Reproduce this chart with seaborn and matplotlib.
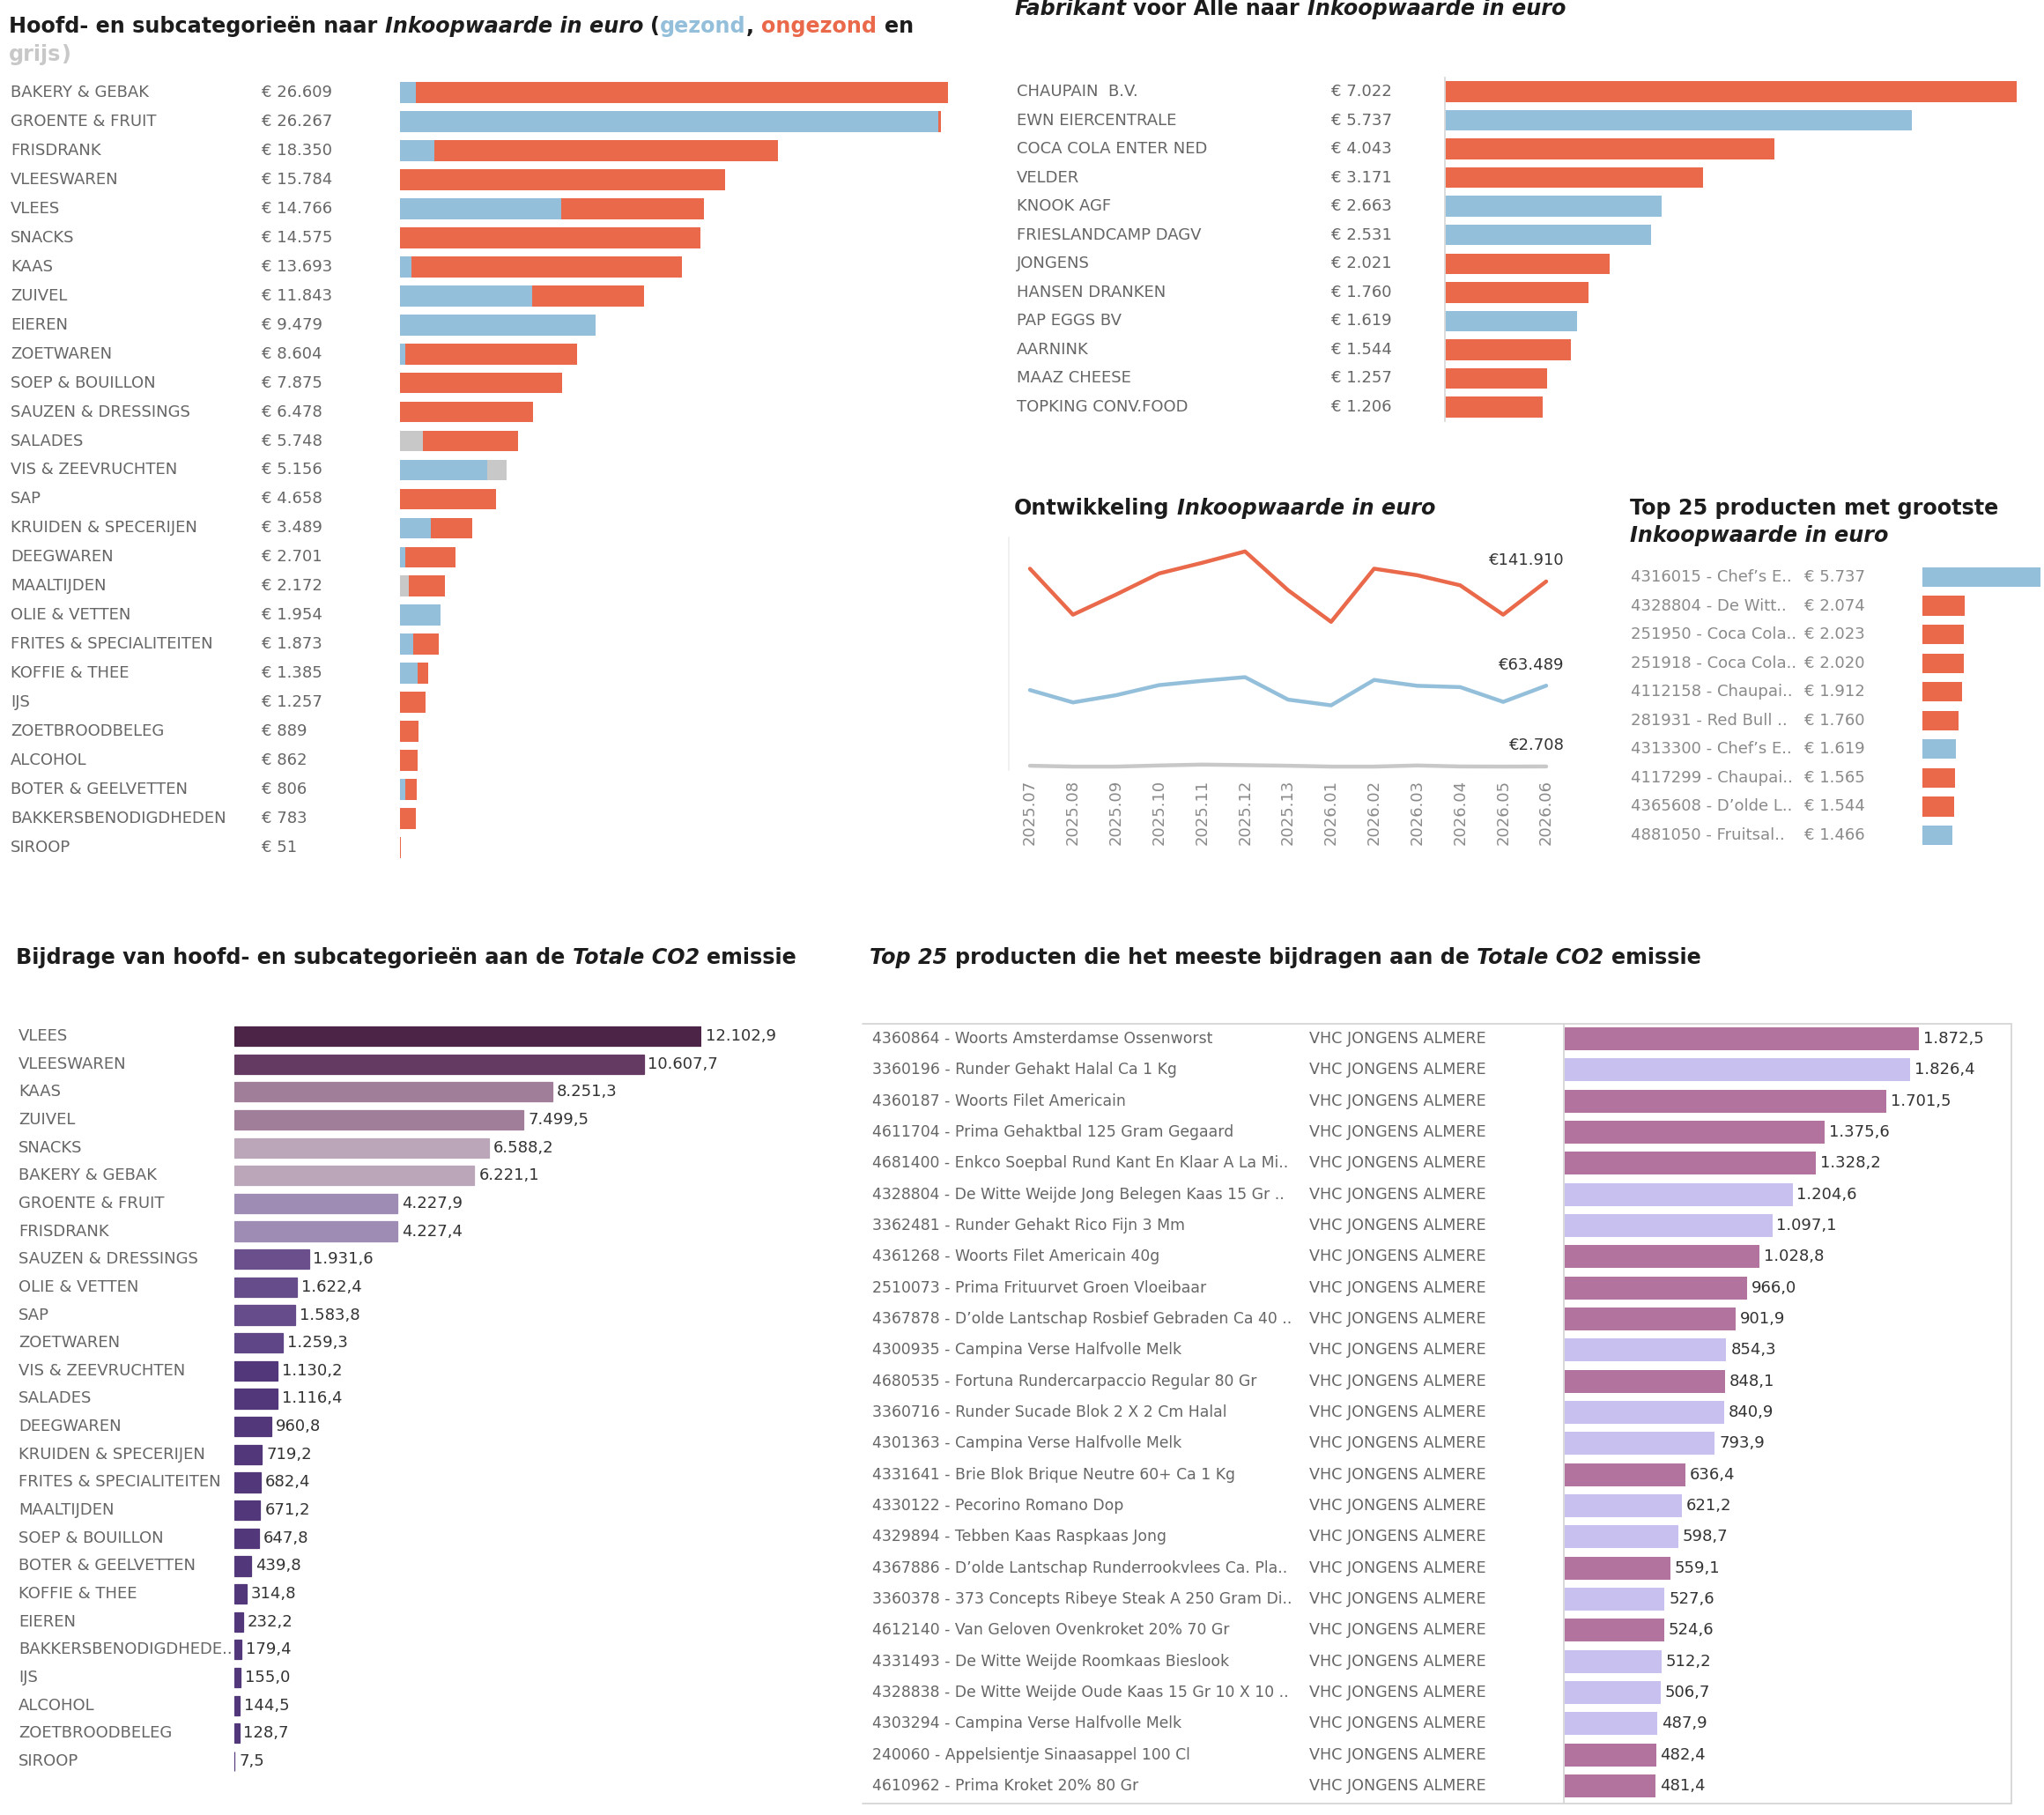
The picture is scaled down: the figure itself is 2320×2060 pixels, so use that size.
import numpy as np
import pandas as pd
import matplotlib
matplotlib.use("Agg")
import matplotlib.pyplot as plt
import seaborn as sns
from matplotlib.transforms import blended_transform_factory
from matplotlib.lines import Line2D

# ---------------- DATA ----------------
cat_names = ["BAKERY & GEBAK", "GROENTE & FRUIT", "FRISDRANK", "VLEESWAREN", "VLEES", "SNACKS",
             "KAAS", "ZUIVEL", "EIEREN", "ZOETWAREN", "SOEP & BOUILLON", "SAUZEN & DRESSINGS",
             "SALADES", "VIS & ZEEVRUCHTEN", "SAP", "KRUIDEN & SPECERIJEN", "DEEGWAREN",
             "MAALTIJDEN", "OLIE & VETTEN", "FRITES & SPECIALITEITEN", "KOFFIE & THEE", "IJS",
             "ZOETBROODBELEG", "ALCOHOL", "BOTER & GEELVETTEN", "BAKKERSBENODIGDHEDEN", "SIROOP"]
cat_total = [26609, 26267, 18350, 15784, 14766, 14575, 13693, 11843, 9479, 8604, 7875, 6478,
             5748, 5156, 4658, 3489, 2701, 2172, 1954, 1873, 1385, 1257, 889, 862, 806, 783, 51]
cat_gezond = [780, 26120, 1680, 0, 7840, 0, 540, 6425, 9479, 240, 0, 0,
              0, 4235, 0, 1500, 240, 0, 1954, 660, 870, 0, 0, 0, 270, 0, 0]
cat_grijs = [0, 0, 0, 0, 0, 0, 0, 0, 0, 0, 0, 0,
             1110, 921, 0, 0, 0, 420, 0, 0, 0, 0, 0, 0, 0, 0, 0]

fab_names = ["CHAUPAIN  B.V.", "EWN EIERCENTRALE", "COCA COLA ENTER NED", "VELDER", "KNOOK AGF",
             "FRIESLANDCAMP DAGV", "JONGENS", "HANSEN DRANKEN", "PAP EGGS BV", "AARNINK",
             "MAAZ CHEESE", "TOPKING CONV.FOOD"]
fab_values = [7022, 5737, 4043, 3171, 2663, 2531, 2021, 1760, 1619, 1544, 1257, 1206]
fab_health = ["ongezond", "gezond", "ongezond", "ongezond", "gezond", "gezond", "ongezond",
              "ongezond", "gezond", "ongezond", "ongezond", "ongezond"]

months = ["2025.07", "2025.08", "2025.09", "2025.10", "2025.11", "2025.12", "2025.13",
          "2026.01", "2026.02", "2026.03", "2026.04", "2026.05", "2026.06"]
line_ongezond = [151500, 116900, 132000, 147900, 155900, 164500, 135300, 111500, 151500,
                 146600, 139000, 116900, 141910]
line_gezond = [60200, 50900, 56300, 63900, 67100, 69900, 53000, 48700, 67800, 63400, 62400,
               51300, 63489]
line_grijs = [3250, 2600, 2600, 3450, 4100, 3700, 3250, 2600, 2600, 3450, 2700, 2600, 2708]

top_names = ["4316015 - Chef\u2019s E..", "4328804 - De Witt..", "251950 - Coca Cola..",
             "251918 - Coca Cola..", "4112158 - Chaupai..", "281931 - Red Bull ..",
             "4313300 - Chef\u2019s E..", "4117299 - Chaupai..", "4365608 - D\u2019olde L..",
             "4881050 - Fruitsal.."]
top_values = [5737, 2074, 2023, 2020, 1912, 1760, 1619, 1565, 1544, 1466]
top_health = ["gezond", "ongezond", "ongezond", "ongezond", "ongezond", "ongezond", "gezond",
              "ongezond", "ongezond", "gezond"]

co2_names = ["VLEES", "VLEESWAREN", "KAAS", "ZUIVEL", "SNACKS", "BAKERY & GEBAK",
             "GROENTE & FRUIT", "FRISDRANK", "SAUZEN & DRESSINGS", "OLIE & VETTEN", "SAP",
             "ZOETWAREN", "VIS & ZEEVRUCHTEN", "SALADES", "DEEGWAREN", "KRUIDEN & SPECERIJEN",
             "FRITES & SPECIALITEITEN", "MAALTIJDEN", "SOEP & BOUILLON", "BOTER & GEELVETTEN",
             "KOFFIE & THEE", "EIEREN", "BAKKERSBENODIGDHEDE..", "IJS", "ALCOHOL",
             "ZOETBROODBELEG", "SIROOP"]
co2_values = [12102.9, 10607.7, 8251.3, 7499.5, 6588.2, 6221.1, 4227.9, 4227.4, 1931.6, 1622.4,
              1583.8, 1259.3, 1130.2, 1116.4, 960.8, 719.2, 682.4, 671.2, 647.8, 439.8, 314.8,
              232.2, 179.4, 155.0, 144.5, 128.7, 7.5]

prod_names = ["4360864 - Woorts Amsterdamse Ossenworst", "3360196 - Runder Gehakt Halal Ca 1 Kg",
              "4360187 - Woorts Filet Americain", "4611704 - Prima Gehaktbal 125 Gram Gegaard",
              "4681400 - Enkco Soepbal Rund Kant En Klaar A La Mi..",
              "4328804 - De Witte Weijde Jong Belegen Kaas 15 Gr ..",
              "3362481 - Runder Gehakt Rico Fijn 3 Mm", "4361268 - Woorts Filet Americain 40g",
              "2510073 - Prima Frituurvet Groen Vloeibaar",
              "4367878 - D\u2019olde Lantschap Rosbief Gebraden Ca 40 ..",
              "4300935 - Campina Verse Halfvolle Melk", "4680535 - Fortuna Rundercarpaccio Regular 80 Gr",
              "3360716 - Runder Sucade Blok 2 X 2 Cm Halal", "4301363 - Campina Verse Halfvolle Melk",
              "4331641 - Brie Blok Brique Neutre 60+ Ca 1 Kg", "4330122 - Pecorino Romano Dop",
              "4329894 - Tebben Kaas Raspkaas Jong",
              "4367886 - D\u2019olde Lantschap Runderrookvlees Ca. Pla..",
              "3360378 - 373 Concepts Ribeye Steak A 250 Gram Di..",
              "4612140 - Van Geloven Ovenkroket 20% 70 Gr", "4331493 - De Witte Weijde Roomkaas Bieslook",
              "4328838 - De Witte Weijde Oude Kaas 15 Gr 10 X 10 ..",
              "4303294 - Campina Verse Halfvolle Melk", "240060 - Appelsientje Sinaasappel 100 Cl",
              "4610962 - Prima Kroket 20% 80 Gr"]
prod_supplier = ["VHC JONGENS ALMERE"] * 25
prod_values = [1872.5, 1826.4, 1701.5, 1375.6, 1328.2, 1204.6, 1097.1, 1028.8, 966.0, 901.9,
               854.3, 848.1, 840.9, 793.9, 636.4, 621.2, 598.7, 559.1, 527.6, 524.6, 512.2,
               506.7, 487.9, 482.4, 481.4]
prod_group = ["A", "B", "A", "A", "A", "B", "B", "A", "A", "A", "B", "A", "B", "B", "A", "B", "B",
              "A", "B", "A", "B", "B", "B", "A", "A"]

# ---------------- STYLE ----------------
sns.set_theme(style="white")
plt.rcParams["font.family"] = ["DejaVu Sans"]

BLUE = "#93bfdb"
RED = "#e9694a"
GREY = "#c8c8c8"
LAB = "#666666"
TITLE = "#1c1c1c"
TSIZE = 17.2
LSIZE = 13
health_pal = {"gezond": BLUE, "ongezond": RED}
co2_colors = ["#4b2447", "#653a62", "#a07d98", "#a07d98", "#bba5b9", "#bba5b9", "#9f8cb4",
              "#9f8cb4", "#6a4f8c", "#664c8a", "#664c8a", "#5f4686"] + ["#52387a"] * 15
prod_pal = {"A": "#b2739e", "B": "#c8c0ee"}

W, H = 2320, 2060
fig = plt.figure(figsize=(W / 100, H / 100), dpi=100)
fig.patch.set_facecolor("white")
renderer = fig.canvas.get_renderer()


def add_ax(x0, y0, x1, y1):
    return fig.add_axes([x0 / W, 1 - y1 / H, (x1 - x0) / W, (y1 - y0) / H])


def rows_ax(x0, x1, first, last, n):
    s = (last - first) / (n - 1)
    return add_ax(x0, first - s / 2, x1, last + s / 2)


def eur(v):
    return "\u20ac " + f"{v:,}".replace(",", ".")


def nl1(v):
    return f"{v:,.1f}".replace(",", "X").replace(".", ",").replace("X", ".")


def text_w(s, size, style):
    t = fig.text(0, 0, s, fontsize=size, fontweight="bold", fontstyle=style)
    w = t.get_window_extent(renderer).width
    t.remove()
    return w


def rich(x, y, parts, size=TSIZE):
    cx = x
    for s, color, style in parts:
        sp = text_w("I I", size, style) - text_w("II", size, style)
        lead = len(s) - len(s.lstrip(" "))
        trail = len(s) - len(s.rstrip(" "))
        cx += lead * sp
        st = s.strip(" ")
        t = fig.text(cx / W, 1 - y / H, st, fontsize=size, fontweight="bold", fontstyle=style,
                     color=color, ha="left", va="center")
        cx += t.get_window_extent(renderer).width + trail * sp
    return cx


def clean(ax):
    ax.set_xlabel("")
    ax.set_ylabel("")
    ax.set_xticks([])
    ax.set_yticks([])
    for sp in ax.spines.values():
        sp.set_visible(False)
    ax.set_facecolor("none")


def row_labels(ax, xs_px, cols, size=LSIZE, color=LAB):
    tr = blended_transform_factory(fig.transFigure, ax.transData)
    for xpx, col in zip(xs_px, cols):
        for i, s in enumerate(col):
            ax.text(xpx / W, i, s, transform=tr, ha="left", va="center", fontsize=size,
                    color=color, clip_on=False)


def min_width(ax, lw=0.9):
    for p in ax.patches:
        p.set_edgecolor(p.get_facecolor())
        p.set_linewidth(lw)


# ---------------- PANEL 1: categories stacked ----------------
df1 = pd.DataFrame({"cat": cat_names, "total": cat_total, "gezond": cat_gezond,
                    "grijs": cat_grijs})
df1["gez_grijs"] = df1["gezond"] + df1["grijs"]
ax1 = rows_ax(454, 1076, 105, 962, len(cat_names))
for col, c in [("total", RED), ("gez_grijs", GREY), ("gezond", BLUE)]:
    sns.barplot(data=df1, x=col, y="cat", orient="h", color=c, saturation=1, width=0.72,
                linewidth=0, errorbar=None, ax=ax1)
ax1.set_xlim(0, max(cat_total))
ax1.set_ylim(len(cat_names) - 0.5, -0.5)
clean(ax1)
row_labels(ax1, [12, 297], [cat_names, [eur(v) for v in cat_total]])
rich(10, 30, [("Hoofd- en subcategorieën naar ", TITLE, "normal"),
              ("Inkoopwaarde in euro", TITLE, "italic"), (" (", TITLE, "normal"),
              ("gezond", BLUE, "normal"), (", ", TITLE, "normal"), ("ongezond", RED, "normal"),
              (" en", TITLE, "normal")])
rich(10, 62, [("grijs", GREY, "normal"), (")", GREY, "normal")])

# ---------------- PANEL 2: fabrikant ----------------
df2 = pd.DataFrame({"fab": fab_names, "val": fab_values, "h": fab_health})
ax2 = rows_ax(1640, 2289, 104, 462, len(fab_names))
sns.barplot(data=df2, x="val", y="fab", hue="h", palette=health_pal, dodge=False, orient="h",
            saturation=1, width=0.72, linewidth=0, errorbar=None, legend=False, ax=ax2)
ax2.set_xlim(0, max(fab_values))
ax2.set_ylim(len(fab_names) - 0.5, -0.5)
clean(ax2)
ax2.spines["left"].set_visible(True)
ax2.spines["left"].set_color("#d9d9d9")
ax2.spines["left"].set_linewidth(1.3)
row_labels(ax2, [1154, 1511], [fab_names, [eur(v) for v in fab_values]])
rich(1151, 10, [("Fabrikant", TITLE, "italic"), (" voor Alle naar ", TITLE, "normal"),
                ("Inkoopwaarde in euro", TITLE, "italic")])

# ---------------- PANEL 3: line chart ----------------
df3 = pd.DataFrame({
    "idx": list(range(len(months))) * 3,
    "val": line_ongezond + line_gezond + line_grijs,
    "serie": ["ongezond"] * len(months) + ["gezond"] * len(months) + ["grijs"] * len(months),
})
sp3 = (1755 - 1169) / 12
ax3 = add_ax(1169 - sp3 / 2, 610, 1755 + sp3 / 2, 874)
sns.lineplot(data=df3, x="idx", y="val", hue="serie",
             palette={"ongezond": RED, "gezond": BLUE, "grijs": GREY},
             linewidth=3.2, legend=False, sort=False, ax=ax3)
ax3.set_xlim(-0.5, 12.5)
ax3.set_ylim(0, 175000)
clean(ax3)
ax3.spines["left"].set_visible(True)
ax3.spines["left"].set_color("#eeeeee")
ax3.set_xticks(range(len(months)))
ax3.set_xticklabels(months, rotation=90, fontsize=13, color="#8a8a8a")
ax3.tick_params(axis="x", length=0, pad=8)
for series in (line_ongezond, line_gezond, line_grijs):
    v = series[-1]
    ax3.annotate("\u20ac" + f"{v:,}".replace(",", "."), xy=(12, v), xytext=(15, 17),
                 textcoords="offset points", ha="right", va="center", fontsize=13,
                 color="#333333")
rich(1151, 577, [("Ontwikkeling ", TITLE, "normal"), ("Inkoopwaarde in euro", TITLE, "italic")])

# ---------------- PANEL 4: top products euro ----------------
df4 = pd.DataFrame({"p": top_names, "val": top_values, "h": top_health})
ax4 = rows_ax(2182, 2316, 655, 948, len(top_names))
sns.barplot(data=df4, x="val", y="p", hue="h", palette=health_pal, dodge=False, orient="h",
            saturation=1, width=0.68, linewidth=0, errorbar=None, legend=False, ax=ax4)
ax4.set_xlim(0, max(top_values))
ax4.set_ylim(len(top_names) - 0.5, -0.5)
clean(ax4)
row_labels(ax4, [1851, 2048], [top_names, [eur(v) for v in top_values]], size=13,
           color="#8a8a8a")
rich(1850, 577, [("Top 25 producten met grootste", TITLE, "normal")])
rich(1850, 608, [("Inkoopwaarde in euro", TITLE, "italic")])

# ---------------- PANEL 5: CO2 categories ----------------
df5 = pd.DataFrame({"cat": co2_names, "val": co2_values})
ax5 = rows_ax(266, 796, 1176, 1999, len(co2_names))
sns.barplot(data=df5, x="val", y="cat", hue="cat", palette=co2_colors, dodge=False, orient="h",
            saturation=1, width=0.7, linewidth=0, errorbar=None, legend=False, ax=ax5)
min_width(ax5)
ax5.set_xlim(0, max(co2_values))
ax5.set_ylim(len(co2_names) - 0.5, -0.5)
clean(ax5)
row_labels(ax5, [21], [co2_names])
for i, v in enumerate(co2_values):
    ax5.annotate(nl1(v), xy=(v, i), xytext=(3.5, 0), textcoords="offset points", ha="left",
                 va="center", fontsize=LSIZE, color="#333333", annotation_clip=False)
rich(18, 1087, [("Bijdrage van hoofd- en subcategorieën aan de ", TITLE, "normal"),
                ("Totale CO2", TITLE, "italic"), (" emissie", TITLE, "normal")])

# ---------------- PANEL 6: CO2 products ----------------
df6 = pd.DataFrame({"p": prod_names, "val": prod_values, "g": prod_group})
ax6 = rows_ax(1776, 2178, 1179, 2027, len(prod_names))
sns.barplot(data=df6, x="val", y="p", hue="g", palette=prod_pal, dodge=False, orient="h",
            saturation=1, width=0.74, linewidth=0, errorbar=None, legend=False, ax=ax6)
ax6.set_xlim(0, max(prod_values))
ax6.set_ylim(len(prod_names) - 0.5, -0.5)
clean(ax6)
row_labels(ax6, [990], [prod_names], size=12.4)
row_labels(ax6, [1486], [prod_supplier], size=12.6)
for i, v in enumerate(prod_values):
    ax6.annotate(nl1(v), xy=(v, i), xytext=(3.5, 0), textcoords="offset points", ha="left",
                 va="center", fontsize=LSIZE, color="#333333", annotation_clip=False)
frame_c = "#d6d6d6"
for (xa, ya, xb, yb) in [(979, 1162, 2283, 1162), (979, 2047, 2283, 2047),
                         (2283, 1162, 2283, 2047), (1775, 1162, 1775, 2047)]:
    fig.add_artist(Line2D([xa / W, xb / W], [1 - ya / H, 1 - yb / H], color=frame_c,
                          linewidth=1.3, transform=fig.transFigure))
rich(987, 1087, [("Top 25", TITLE, "italic"),
                 (" producten die het meeste bijdragen aan de ", TITLE, "normal"),
                 ("Totale CO2", TITLE, "italic"), (" emissie", TITLE, "normal")])

fig.savefig("out.png", dpi=100, facecolor="white")
